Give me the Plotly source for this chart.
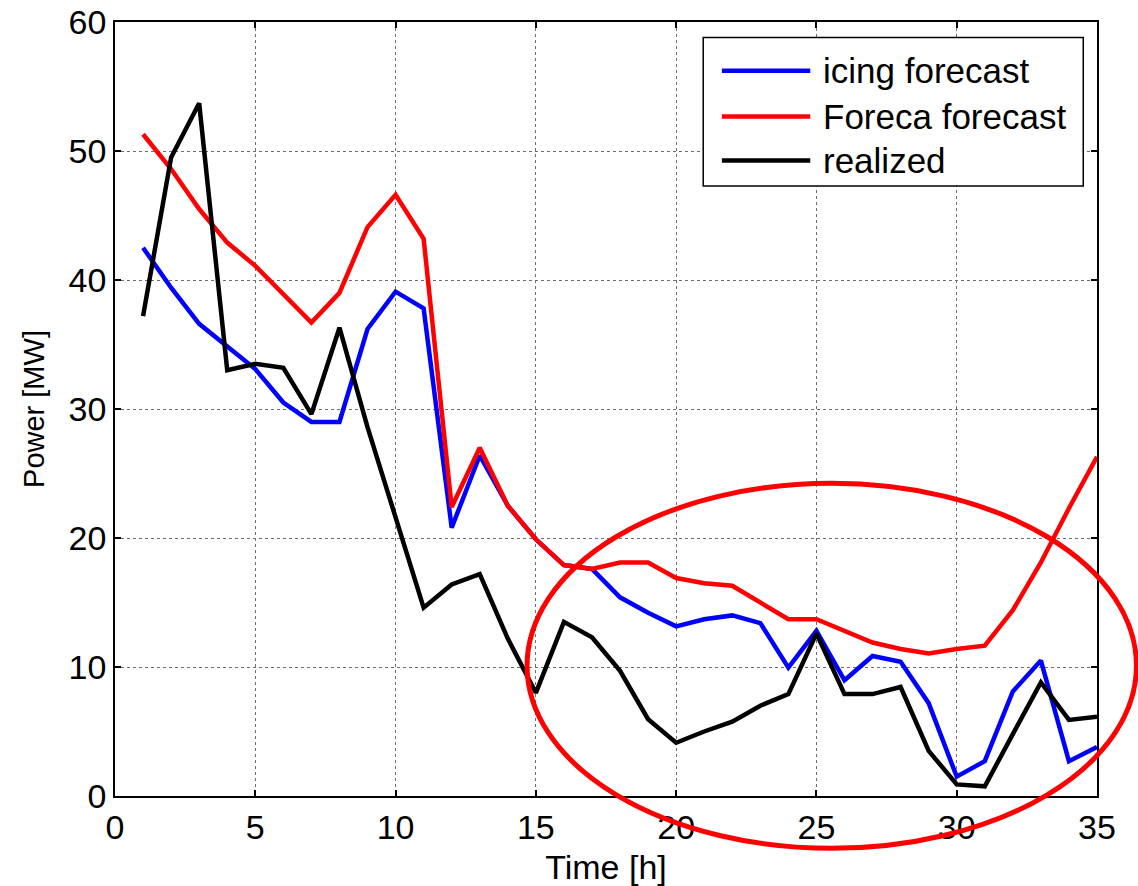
import plotly.graph_objects as go

# Hourly power series (MW)
hours = list(range(1, 36))

icing_forecast = [42.5, 39.4, 36.6, 34.8, 33.1, 30.5, 29.0, 29.0, 36.2, 39.1,
                  37.8, 20.8, 26.4, 22.5, 19.9, 17.9, 17.6, 15.4, 14.2, 13.15,
                  13.7, 14.0, 13.4, 9.95, 12.8, 8.97, 10.85, 10.4, 7.2, 1.5,
                  2.7, 8.1, 10.5, 2.7, 3.8]

foreca_forecast = [51.3, 48.6, 45.5, 42.9, 41.1, 38.9, 36.7, 39.0, 44.1, 46.6,
                   43.2, 22.4, 27.0, 22.5, 19.9, 17.9, 17.6, 18.1, 18.1, 16.9,
                   16.5, 16.3, 15.0, 13.7, 13.7, 12.8, 11.9, 11.4, 11.05, 11.4,
                   11.65, 14.4, 18.1, 22.3, 26.3]

realized = [37.2, 49.5, 53.7, 33.0, 33.5, 33.2, 29.6, 36.3, 28.6, 21.6,
            14.6, 16.4, 17.2, 12.2, 8.0, 13.5, 12.3, 9.7, 5.95, 4.13,
            5.0, 5.76, 7.0, 7.9, 12.6, 7.9, 7.9, 8.45, 3.5, 0.9,
            0.75, 4.8, 8.8, 5.9, 6.15]

series_names = ["icing forecast", "Foreca forecast", "realized"]
series_values = [icing_forecast, foreca_forecast, realized]
series_colors = ["#0000FF", "#FF0000", "#000000"]

x_ticks = [0, 5, 10, 15, 20, 25, 30, 35]
y_ticks = [0, 10, 20, 30, 40, 50, 60]

FONT = "Liberation Sans, Arial, sans-serif"

fig = go.Figure()
for name, vals, col in zip(series_names, series_values, series_colors):
    fig.add_trace(go.Scatter(x=hours, y=vals, mode="lines", name=name,
                             line=dict(color=col, width=4.5),
                             showlegend=False))

# Legend box drawn by hand so the line samples can be long
leg_x0, leg_x1 = 0.599, 0.986
leg_y0, leg_y1 = 0.788, 0.980
shapes = [dict(type="rect", xref="paper", yref="paper",
               x0=leg_x0, x1=leg_x1, y0=leg_y0, y1=leg_y1,
               line=dict(color="black", width=1.5), fillcolor="white",
               layer="above")]
annotations = []
row_y = [0.937, 0.878, 0.821]
for name, col, yy in zip(series_names, series_colors, row_y):
    shapes.append(dict(type="line", xref="paper", yref="paper",
                       x0=0.618, x1=0.708, y0=yy, y1=yy,
                       line=dict(color=col, width=4.5), layer="above"))
    annotations.append(dict(xref="paper", yref="paper", x=0.719, y=yy,
                            text=name, showarrow=False, xanchor="left",
                            yanchor="middle",
                            font=dict(family=FONT, size=35, color="black")))

# Highlight ellipse around the low-power period
shapes.append(dict(type="circle", xref="paper", yref="paper",
                   x0=0.4196, x1=1.0402, y0=-0.0676, y1=0.4040,
                   line=dict(color="#FF0000", width=5), layer="above"))

fig.update_layout(
    width=1138, height=886,
    margin=dict(l=115, r=41, t=22, b=90),
    paper_bgcolor="white", plot_bgcolor="white",
    font=dict(family=FONT, size=34, color="black"),
    shapes=shapes, annotations=annotations,
    showlegend=False,
)

axis_common = dict(
    showline=True, linecolor="black", linewidth=1.5, mirror="ticks",
    ticks="inside", ticklen=6, tickcolor="black", tickwidth=1.5,
    showgrid=True, gridcolor="#6e6e6e", gridwidth=1, griddash="dot",
    zeroline=False, automargin=False,
    tickfont=dict(family=FONT, size=34, color="black"),
)

fig.update_xaxes(range=[0, 35], tickvals=x_ticks,
                 title=dict(text="Time [h]", font=dict(family=FONT, size=34)),
                 ticklabelstandoff=0, **axis_common)
fig.update_yaxes(range=[0, 60], tickvals=y_ticks,
                 title=dict(text="Power [MW]", font=dict(family=FONT, size=29)),
                 ticklabelstandoff=0, **axis_common)

fig.write_html("out.html")
